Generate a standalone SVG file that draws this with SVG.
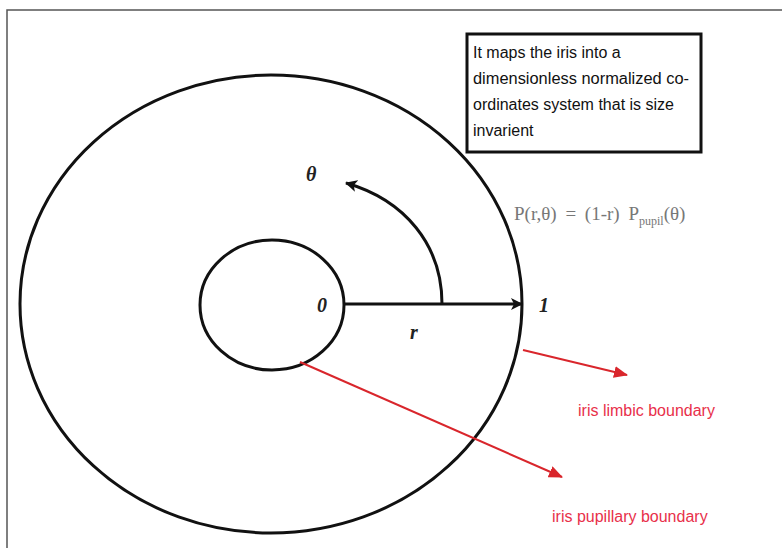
<svg xmlns="http://www.w3.org/2000/svg" width="782" height="548" viewBox="0 0 782 548">
<style>
.lbl{font-family:"Liberation Serif",serif;font-style:italic;font-weight:bold;font-size:20px;fill:#222}
.box{font-family:"Liberation Sans",Arial,sans-serif;font-size:16px;fill:#111}
.red{font-family:"Liberation Sans",Arial,sans-serif;font-size:16px;fill:#e8304a}
.f{font-family:"Liberation Serif",serif;font-size:19px;fill:#777;word-spacing:4px}
</style>
<defs>
<marker id="ah" markerWidth="12" markerHeight="12" refX="11" refY="6" orient="auto" markerUnits="userSpaceOnUse">
<path d="M0,0 L12,6 L0,12 L3,6 Z" fill="#111"/>
</marker>
<marker id="rh" markerWidth="14" markerHeight="12" refX="13" refY="6" orient="auto" markerUnits="userSpaceOnUse">
<path d="M0,0 L14,6 L0,12 Z" fill="#d9262c"/>
</marker>
</defs>
<rect width="782" height="548" fill="#fff"/>
<path d="M7,548 L7,10 L782,10" fill="none" stroke="#555" stroke-width="1.5"/>
<g id="outer"><ellipse cx="271" cy="304" rx="251" ry="229" fill="none" stroke="#111" stroke-width="3"/></g>
<g id="inner"><ellipse cx="272" cy="305" rx="72" ry="65" fill="none" stroke="#111" stroke-width="3"/></g>
<g id="connectors">
<line x1="344" y1="304" x2="522" y2="304" stroke="#111" stroke-width="3" marker-end="url(#ah)"/>
<path d="M442,304 C442,245 405,200 346,183" fill="none" stroke="#111" stroke-width="3" marker-end="url(#ah)"/>
<line x1="523" y1="350" x2="627" y2="375" stroke="#d9262c" stroke-width="2" marker-end="url(#rh)"/>
<line x1="300" y1="362" x2="562" y2="477" stroke="#d9262c" stroke-width="2" marker-end="url(#rh)"/>
</g>
<g id="labels">
<text class="lbl" x="306" y="181">θ</text>
<text class="lbl" x="317" y="312">0</text>
<text class="lbl" x="539" y="312">1</text>
<text class="lbl" x="410" y="339">r</text>
<text class="f" x="514" y="220">P(r,θ) = (1-r) P<tspan font-size="12" dy="5">pupil</tspan><tspan dy="-5">(θ)</tspan></text>
</g>
<g id="note">
<rect x="467" y="34" width="234" height="118" fill="#fff" stroke="#111" stroke-width="3"/>
<text class="box" x="473" y="58">It maps the iris into a</text>
<text class="box" x="473" y="84" textLength="216" lengthAdjust="spacingAndGlyphs">dimensionless normalized co-</text>
<text class="box" x="473" y="110">ordinates system that is size</text>
<text class="box" x="473" y="136">invarient</text>
</g>
<g id="limbic"><text class="red" x="578" y="416">iris limbic boundary</text></g>
<g id="pupillary"><text class="red" x="552" y="522">iris pupillary boundary</text></g>
</svg>
